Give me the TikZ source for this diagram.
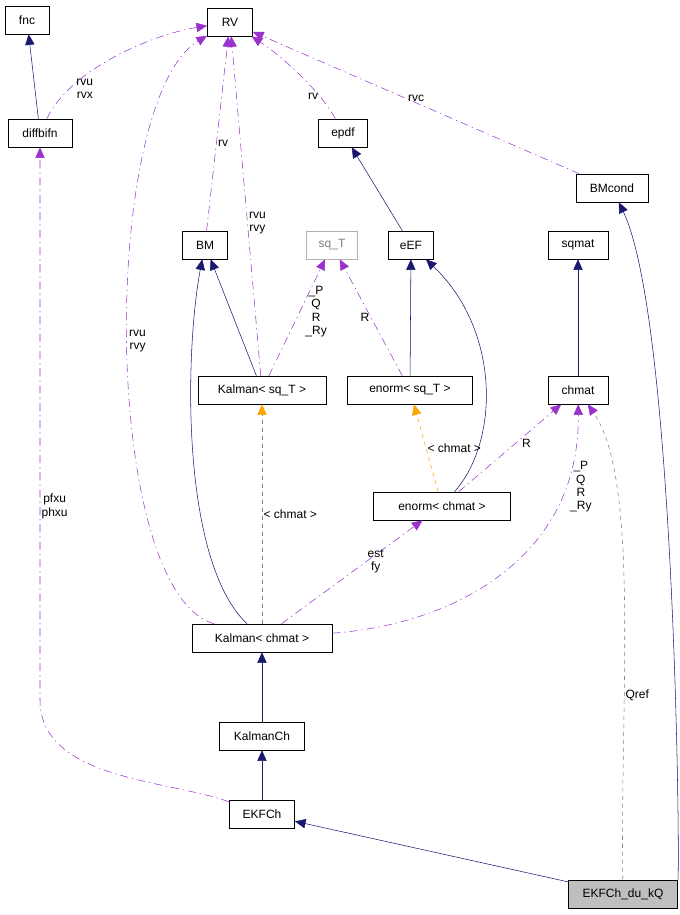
\documentclass[tikz,border=0pt]{standalone}
\usepackage{fontspec}
\setmainfont{Liberation Sans}
\usetikzlibrary{arrows.meta}
\definecolor{navy}{RGB}{25,25,112}
\definecolor{usepurple}{RGB}{154,50,205}
\definecolor{tmplorange}{RGB}{255,165,0}
\tikzset{
  cls/.style={draw,minimum height=21pt,inner xsep=5pt,font=\fontsize{9}{10}\selectfont},
  inh/.style={navy,-{Triangle[length=8pt,width=7pt]}},
  use/.style={usepurple,dash pattern=on 6pt off 3pt on 1pt off 3pt,-{Triangle[length=8pt,width=7pt]}},
  tmpl/.style={gray,dashed,-{Triangle[length=8pt,width=7pt,color=tmplorange]}},
  lbl/.style={text=black,font=\fontsize{9}{10}\selectfont,align=center,inner sep=1pt}
}
\begin{document}
\begin{tikzpicture}[x=0.75pt,y=-0.75pt]
    \useasboundingbox (0,0) rectangle (680,915);
    \node[cls,minimum width=33pt] (fnc) at (27,20) {fnc};
    \node[cls,minimum width=34pt] (rv) at (230,22) {RV};
    \node[cls,minimum width=48pt] (diffbifn) at (40,133) {diffbifn};
    \node[cls,minimum width=37pt] (epdf) at (343,133) {epdf};
    \node[cls,minimum width=54pt] (bmcond) at (612,188) {BMcond};
    \node[cls,minimum width=34pt] (bm) at (205,245) {BM};
    \node[cls,minimum width=38pt,draw=gray!60,text=gray] (sqt) at (332,245) {sq\_T};
    \node[cls,minimum width=34pt] (eef) at (411,245) {eEF};
    \node[cls,minimum width=45pt] (sqmat) at (578,245) {sqmat};
    \node[cls,minimum width=96pt] (ksqt) at (262,390) {Kalman< sq\_T >};
    \node[cls,minimum width=94pt] (esqt) at (410,390) {enorm< sq\_T >};
    \node[cls,minimum width=45pt] (chmat) at (578,390) {chmat};
    \node[cls,minimum width=103pt] (echmat) at (442,506) {enorm< chmat >};
    \node[cls,minimum width=105pt] (kchmat) at (262,638) {Kalman< chmat >};
    \node[cls,minimum width=64pt] (kalmanch) at (262,736) {KalmanCh};
    \node[cls,minimum width=49pt] (ekfch) at (262,814) {EKFCh};
    \node[cls,minimum width=82pt,fill=gray!50] (ekfq) at (623,894) {EKFCh\_du\_kQ};

    % inheritance
    \draw[inh] (diffbifn) -- (fnc);
    \draw[inh] (eef) -- (epdf);
    \draw[inh] (ksqt) -- (bm);
    \draw[inh] (kchmat) .. controls (180,560) and (185,350) .. (bm);
    \draw[inh] (esqt) -- (eef);
    \draw[inh] (echmat) .. controls (500,440) and (500,330) .. (eef);
    \draw[inh] (chmat) -- (sqmat);
    \draw[inh] (kalmanch) -- (kchmat);
    \draw[inh] (ekfch) -- (kalmanch);
    \draw[inh] (ekfq) -- (ekfch);
    \draw[inh] (ekfq.north east) .. controls (680,860) and (675,320) .. (bmcond);

    % usage
    \draw[use] (diffbifn) .. controls (70,70) and (150,35) .. (rv) node[lbl,pos=0.22,right=4pt] {rvu\\rvx};
    \draw[use] (epdf) .. controls (320,90) and (280,55) .. (rv) node[lbl,pos=0.25,left] {rv};
    \draw[use] (bmcond) -- (rv) node[lbl,pos=0.5,above] {rvc};
    \draw[use] (bm) -- (rv) node[lbl,pos=0.45,right] {rv};
    \draw[use] (ksqt) -- (rv) node[lbl,pos=0.45,right] {rvu\\rvy};
    \draw[use] (kchmat) .. controls (100,590) and (100,100) .. (rv) node[lbl,pos=0.5,right] {rvu\\rvy};
    \draw[use] (ksqt) -- (sqt) node[lbl,pos=0.55,right=3pt] {\_P\\Q\\R\\\_Ry};
    \draw[use] (esqt) -- (sqt) node[lbl,pos=0.5,left] {R};
    \draw[use] (echmat) -- (chmat) node[lbl,pos=0.55,right=4pt] {R};
    \draw[use] (kchmat) .. controls (450,625) and (580,560) .. (chmat) node[lbl,pos=0.8,right=3pt] {\_P\\Q\\R\\\_Ry};
    \draw[use] (kchmat) -- (echmat) node[lbl,pos=0.6,right] {est\\fy};
    \draw[gray,dashed,-{Triangle[length=8pt,width=7pt,color=usepurple]}] (ekfq) .. controls (620,700) and (640,480) .. (chmat) node[lbl,pos=0.33,right] {Qref};
    \draw[use] (ekfch) .. controls (170,780) and (40,780) .. (40,700) -- (diffbifn) node[lbl,pos=0.35,right] {pfxu\\phxu};

    % templates
    \draw[tmpl,tmplorange] (echmat) -- (esqt) node[lbl,pos=0.5,right] {< chmat >};
    \draw[tmpl] (kchmat) -- (ksqt) node[lbl,pos=0.5,right] {< chmat >};
\end{tikzpicture}
\end{document}
